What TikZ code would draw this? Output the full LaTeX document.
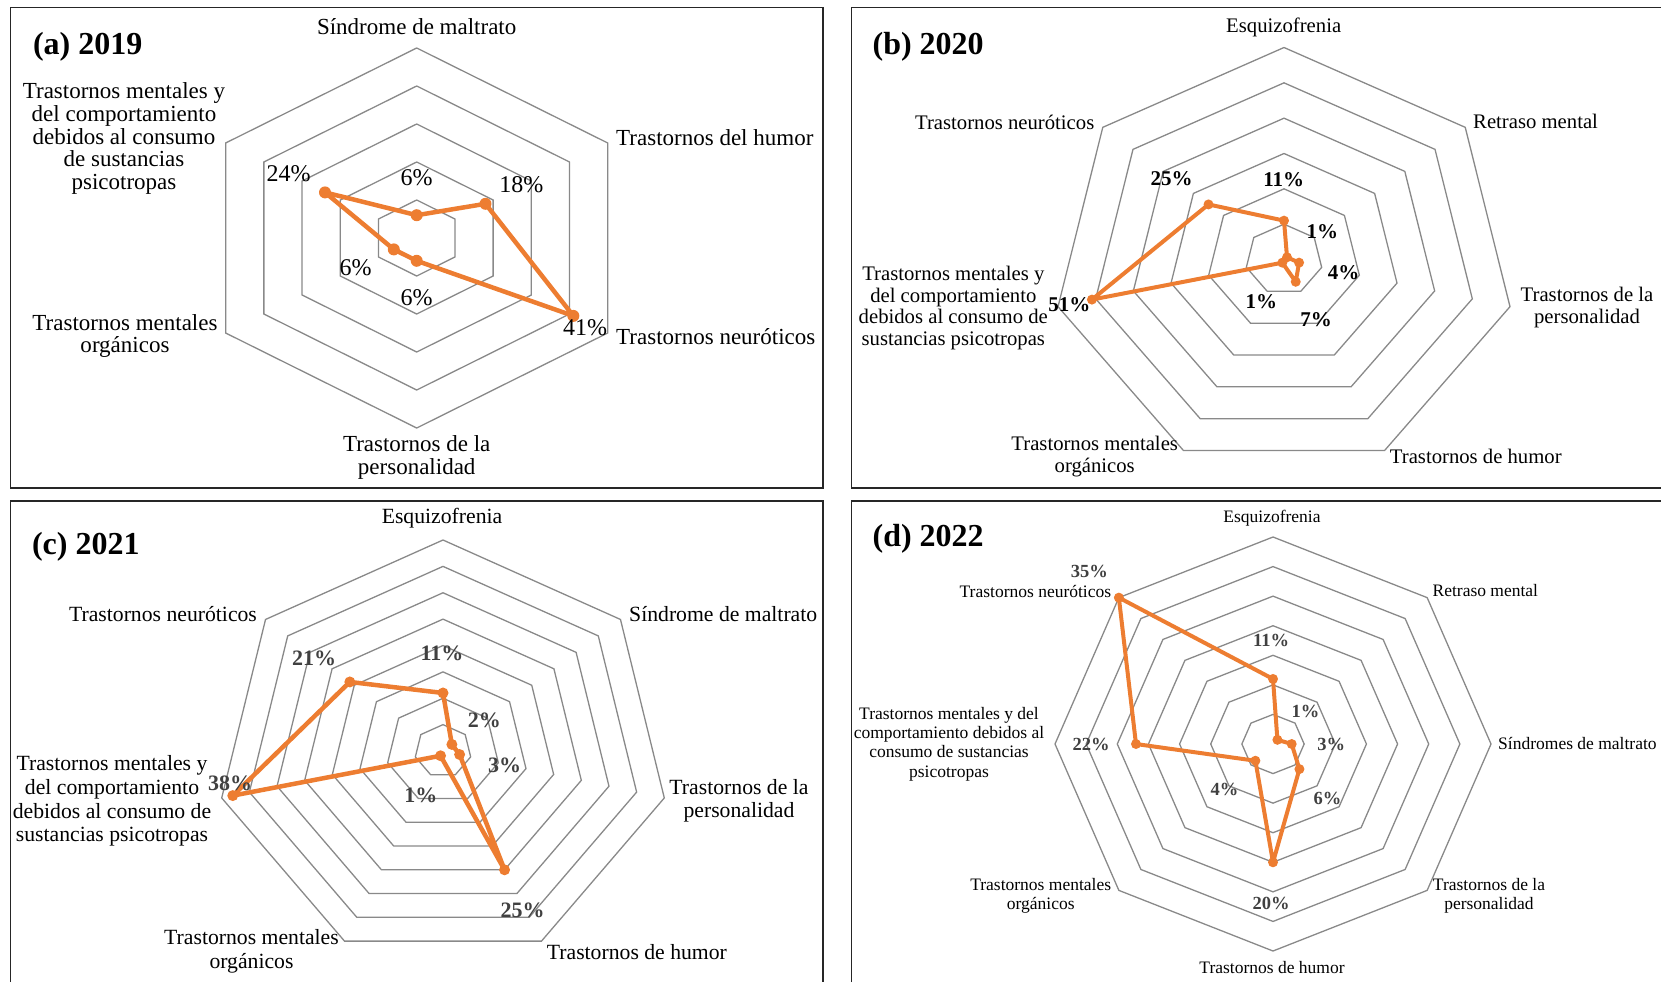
\documentclass[tikz,border=0pt]{standalone}
\usepackage{fontspec}
\setmainfont{Liberation Serif}
\definecolor{webgray}{RGB}{137,137,137}
\definecolor{dataorange}{RGB}{237,125,49}
\definecolor{valgray}{RGB}{64,64,64}
% #1 = number of axes, #2 = number of rings
\def\radarweb#1#2{%
  \pgfmathtruncatemacro\lastk{#1-1}
  \foreach \ring in {1,...,#2}{
    \draw[webline] (90:{\ring/#2}) \foreach \k in {1,...,\lastk}{ -- ({90-\k*360/#1}:{\ring/#2})} -- cycle;
  }}

\begin{document}
\begin{tikzpicture}[x=1pt, y=-1pt,
  webline/.style={draw=webgray, line width=1.3pt},
  dataline/.style={draw=dataorange, line width=4pt, line join=round},
  panelframe/.style={draw=black!85, line width=1.3pt},
  paneltitle/.style={anchor=west, inner sep=0pt, font=\fontsize{32}{32}\selectfont\bfseries},
  catA/.style={inner sep=0pt, align=center, font=\fontsize{23}{22.8}\selectfont},
  valA/.style={inner sep=0pt, font=\fontsize{24}{24}\selectfont},
  catB/.style={inner sep=0pt, align=center, font=\fontsize{20.7}{21.7}\selectfont},
  valB/.style={inner sep=0pt, font=\fontsize{21}{21}\selectfont\bfseries},
  catC/.style={inner sep=0pt, align=center, font=\fontsize{21.7}{23.6}\selectfont},
  valC/.style={inner sep=0pt, text=valgray, font=\fontsize{22}{22}\selectfont\bfseries},
  catD/.style={inner sep=0pt, align=center, font=\fontsize{17.5}{19.2}\selectfont},
  valD/.style={inner sep=0pt, text=valgray, font=\fontsize{18.5}{18.5}\selectfont\bfseries}]

  %%%%% START %%%%%
  \useasboundingbox (0,0) rectangle (1661,982);

  % frames
  \draw[panelframe] (10.6,7.4) rectangle (823,488);
  \draw[panelframe] (1661,7.4) -- (851.7,7.4) -- (851.7,488) -- (1661,488);
  \draw[panelframe] (10.6,982) -- (10.6,501) -- (823,501) -- (823,982);
  \draw[panelframe] (851.7,982) -- (851.7,501) -- (1661,501);

  %%%%% (a) 2019 %%%%%
  \begin{scope}[shift={(416.7,238)}, x=220.6pt, y=190pt]
    \radarweb{6}{5}
    \foreach \pct [count=\k from 0] in {6,18,41,6,6,24}
      \coordinate (a\k) at ({90-\k*60}:{\pct/50});
    \draw[dataline, line width=4.5pt] (a0) -- (a1) -- (a2) -- (a3) -- (a4) -- (a5) -- cycle;
    \foreach \k in {0,...,5} \fill[dataorange] (a\k) circle (6pt);
  \end{scope}
  \node[paneltitle] (aT) at (32.8,46.5) {(a) 2019};
  \node[catA] (aL0) at (416.7,26.5) {Síndrome de maltrato};
  \node[catA, anchor=west] (aL1) at (616,137.7) {Trastornos del humor};
  \node[catA, anchor=west] (aL2) at (616,337) {Trastornos neuróticos};
  \node[catA] (aL3) at (416.7,457.5) {Trastornos de la\\personalidad};
  \node[catA] (aL4) at (125,336) {Trastornos mentales\\orgánicos};
  \node[catA] (aL5) at (124,138.5) {Trastornos mentales y\\del comportamiento\\debidos al consumo\\de sustancias\\psicotropas};
  \node[valA] (aP0) at (416.6,178) {6\%};
  \node[valA] (aP1) at (521.4,185) {18\%};
  \node[valA] (aP2) at (585,328) {41\%};
  \node[valA] (aP3) at (416.6,297.7) {6\%};
  \node[valA] (aP4) at (355.7,267.7) {6\%};
  \node[valA] (aP5) at (288.5,173.3) {24\%};

  %%%%% (b) 2020 %%%%%
  \begin{scope}[shift={(1284,259.5)}, x=231.8pt, y=212pt]
    \radarweb{7}{6}
    \foreach \pct [count=\k from 0] in {11,1,4,7,1,51,25}
      \coordinate (b\k) at ({90-\k*360/7}:{\pct/60});
    \draw[dataline] (b0) -- (b1) -- (b2) -- (b3) -- (b4) -- (b5) -- (b6) -- cycle;
    \foreach \k in {0,...,6} \fill[dataorange] (b\k) circle (5pt);
  \end{scope}
  \node[paneltitle] (bT) at (872.4,46.5) {(b) 2020};
  \node[catB] (bL0) at (1283.7,27.3) {Esquizofrenia};
  \node[catB, anchor=west] (bL1) at (1473,121.7) {Retraso mental};
  \node[catB] (bL2) at (1587,307.5) {Trastornos de la\\personalidad};
  \node[catB] (bL3) at (1475.8,456.7) {Trastornos de humor};
  \node[catB] (bL4) at (1094.7,456.3) {Trastornos mentales\\orgánicos};
  \node[catB] (bL5) at (953.3,308) {Trastornos mentales y\\del comportamiento\\debidos al consumo de\\sustancias psicotropas};
  \node[catB] (bL6) at (1004.7,122.3) {Trastornos neuróticos};
  \node[valB] (bP0) at (1283.7,180) {11\%};
  \node[valB] (bP1) at (1322.3,231.7) {1\%};
  \node[valB] (bP2) at (1343.5,272.3) {4\%};
  \node[valB] (bP3) at (1316,320) {7\%};
  \node[valB] (bP4) at (1261.4,301.7) {1\%};
  \node[valB] (bP5) at (1069.3,305) {51\%};
  \node[valB] (bP6) at (1171.5,178.3) {25\%};

  %%%%% (c) 2021 %%%%%
  \begin{scope}[shift={(443,751)}, x=227pt, y=211pt]
    \radarweb{7}{8}
    \foreach \pct [count=\k from 0] in {11,2,3,25,1,38,21}
      \coordinate (c\k) at ({90-\k*360/7}:{\pct/40});
    \draw[dataline, line width=4.5pt] (c0) -- (c1) -- (c2) -- (c3) -- (c4) -- (c5) -- (c6) -- cycle;
    \foreach \k in {0,...,6} \fill[dataorange] (c\k) circle (5.5pt);
  \end{scope}
  \node[paneltitle] (cT) at (31.8,546.5) {(c) 2021};
  \node[catC] (cL0) at (442,518.3) {Esquizofrenia};
  \node[catC, anchor=west] (cL1) at (629,614) {Síndrome de maltrato};
  \node[catC] (cL2) at (739,800.7) {Trastornos de la\\personalidad};
  \node[catC] (cL3) at (636.9,951.7) {Trastornos de humor};
  \node[catC] (cL4) at (251.5,951) {Trastornos mentales\\orgánicos};
  \node[catC] (cL5) at (112,801) {Trastornos mentales y\\del comportamiento\\debidos al consumo de\\sustancias psicotropas};
  \node[catC] (cL6) at (163,614) {Trastornos neuróticos};
  \node[valC] (cP0) at (442,653.3) {11\%};
  \node[valC] (cP1) at (484.4,720) {2\%};
  \node[valC] (cP2) at (504.5,765.7) {3\%};
  \node[valC] (cP3) at (522.5,910.7) {25\%};
  \node[valC] (cP4) at (420.9,795) {1\%};
  \node[valC] (cP5) at (230,783.3) {38\%};
  \node[valC] (cP6) at (314,658.3) {21\%};

  %%%%% (d) 2022 %%%%%
  \begin{scope}[shift={(1273,744)}, x=218pt, y=207pt]
    \radarweb{8}{7}
    \foreach \pct [count=\k from 0] in {11,1,3,6,20,4,22,35}
      \coordinate (d\k) at ({90-\k*45}:{\pct/35});
    \draw[dataline] (d0) -- (d1) -- (d2) -- (d3) -- (d4) -- (d5) -- (d6) -- (d7) -- cycle;
    \foreach \k in {0,...,7} \fill[dataorange] (d\k) circle (5pt);
  \end{scope}
  \node[paneltitle] (dT) at (872.4,538.5) {(d) 2022};
  \node[catD] (dL0) at (1272,518.3) {Esquizofrenia};
  \node[catD, anchor=west] (dL1) at (1432.4,591) {Retraso mental};
  \node[catD, anchor=west] (dL2) at (1498,743.3) {Síndromes de maltrato};
  \node[catD] (dL3) at (1489,895.8) {Trastornos de la\\personalidad};
  \node[catD] (dL4) at (1272,968) {Trastornos de humor};
  \node[catD] (dL5) at (1040.7,895.8) {Trastornos mentales\\orgánicos};
  \node[catD] (dL6) at (949,744) {Trastornos mentales y del\\comportamiento debidos al\\consumo de sustancias\\psicotropas};
  \node[catD] (dL7) at (1035.4,591) {Trastornos neuróticos};
  \node[valD] (dP0) at (1271,640) {11\%};
  \node[valD] (dP1) at (1305.4,711) {1\%};
  \node[valD] (dP2) at (1331.3,744) {3\%};
  \node[valD] (dP3) at (1327.6,798.3) {6\%};
  \node[valD] (dP4) at (1271,903.3) {20\%};
  \node[valD] (dP5) at (1224.4,789) {4\%};
  \node[valD] (dP6) at (1091,744) {22\%};
  \node[valD] (dP7) at (1089.4,571) {35\%};

  %%%%% END %%%%%
\end{tikzpicture}
\end{document}
